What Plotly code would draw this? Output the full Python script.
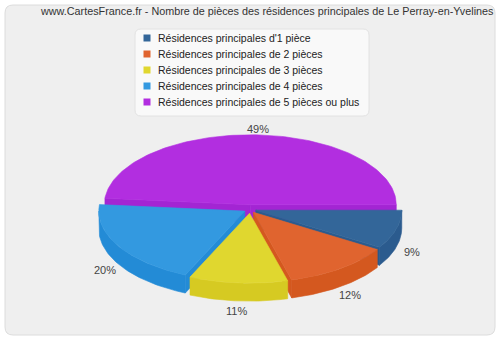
import numpy as np
import plotly.graph_objects as go

title = "www.CartesFrance.fr - Nombre de pièces des résidences principales de Le Perray-en-Yvelines"
categories = [
    "Résidences principales d'1 pièce",
    "Résidences principales de 2 pièces",
    "Résidences principales de 3 pièces",
    "Résidences principales de 4 pièces",
    "Résidences principales de 5 pièces ou plus",
]
values = [9, 12, 11, 20, 49]
pct_labels = ["9%", "12%", "11%", "20%", "49%"]
top_colors = ["#336699", "#e0642f", "#e0d72f", "#3399e0", "#b22ee0"]
side_colors = ["#2b5b8e", "#d4581f", "#d6ca22", "#238bd6", "#a325d3"]

# geometry (pixel space)
W, H = 500, 340
CX, CY, RX, RY, DEPTH, EXPLODE = 250, 209, 146, 70, 18, 6

fig = go.Figure()

vals = np.array(values, dtype=float)
fr = vals / vals.sum()
ends = np.cumsum(fr) * 2 * np.pi
starts = np.concatenate([[0.0], ends[:-1]])


def pt(a, ox, oy, dz=0.0):
    return CX + ox + RX * np.cos(a), CY + oy + RY * np.sin(a) + dz


def poly(xs, ys, color):
    fig.add_trace(go.Scatter(
        x=list(xs) + [xs[0]], y=list(ys) + [ys[0]], mode="lines",
        fill="toself", fillcolor=color, line=dict(color=color, width=0.6),
        hoverinfo="skip", showlegend=False))


mids = (starts + ends) / 2
order = np.argsort(np.sin(mids))
for i in order:
    a1, a2, m = starts[i], ends[i], mids[i]
    ox, oy = EXPLODE * np.cos(m), EXPLODE * np.sin(m) * 0.7
    cx, cy = CX + ox, CY + oy
    if np.cos(a1) < 0:
        x1, y1 = pt(a1, ox, oy)
        poly([cx, x1, x1, cx], [cy, y1, y1 + DEPTH, cy + DEPTH], side_colors[i])
    if np.cos(a2) > 0:
        x2, y2 = pt(a2, ox, oy)
        poly([cx, x2, x2, cx], [cy, y2, y2 + DEPTH, cy + DEPTH], side_colors[i])
    lo, hi = max(a1, 0.0), min(a2, np.pi)
    if hi > lo:
        t = np.linspace(lo, hi, 60)
        xt, yt = pt(t, ox, oy)
        xs = np.concatenate([xt, xt[::-1]])
        ys = np.concatenate([yt, (yt + DEPTH)[::-1]])
        poly(xs, ys, side_colors[i])
    t = np.linspace(a1, a2, 120)
    xt, yt = pt(t, ox, oy)
    poly(np.concatenate([[cx], xt]), np.concatenate([[cy], yt]), top_colors[i])

annotations = []
for i in range(len(values)):
    m = mids[i]
    ox, oy = EXPLODE * np.cos(m), EXPLODE * np.sin(m) * 0.7
    k = 1.11
    lx = CX + ox + RX * k * np.cos(m)
    ly = CY + oy + RY * k * np.sin(m) + (DEPTH if np.sin(m) > 0 else 0) + 2
    annotations.append(dict(x=lx, y=ly, text=pct_labels[i], showarrow=False,
                            font=dict(size=11, color="#444444"),
                            xanchor="center", yanchor="middle"))

# legend entries
LX0, LY0, LDY = 147, 38, 16
for i, c in enumerate(categories):
    fig.add_trace(go.Scatter(x=[LX0], y=[LY0 + i * LDY], mode="markers",
                             marker=dict(symbol="square", size=7, color=top_colors[i]),
                             hoverinfo="skip", showlegend=False))
    annotations.append(dict(x=LX0 + 9, y=LY0 + i * LDY, text=c, showarrow=False,
                            xanchor="left", yanchor="middle",
                            font=dict(size=10.5, color="#222222")))

annotations.append(dict(x=267, y=11, text=title, showarrow=False, xanchor="center",
                        yanchor="middle", font=dict(size=10.8, color="#333333")))


def rrect(x0, y0, x1, y1, r):
    return (f"M{x0+r},{y0} L{x1-r},{y0} Q{x1},{y0} {x1},{y0+r} L{x1},{y1-r} "
            f"Q{x1},{y1} {x1-r},{y1} L{x0+r},{y1} Q{x0},{y1} {x0},{y1-r} "
            f"L{x0},{y0+r} Q{x0},{y0} {x0+r},{y0} Z")


shapes = [
    dict(type="path", path=rrect(5, 5, 495, 335, 8), fillcolor="#efefef",
         line=dict(color="#dcdcdc", width=1), layer="below"),
    dict(type="path", path=rrect(135, 29, 369, 116, 6), fillcolor="#f9f9f9",
         line=dict(color="#e2e2e2", width=1), layer="below"),
]

fig.update_layout(
    width=W, height=H, margin=dict(l=0, r=0, t=0, b=0),
    paper_bgcolor="#ffffff", plot_bgcolor="rgba(0,0,0,0)",
    font=dict(family="Liberation Sans, Arial, sans-serif"),
    xaxis=dict(range=[0, W], visible=False, fixedrange=True),
    yaxis=dict(range=[H, 0], visible=False, fixedrange=True),
    shapes=shapes, annotations=annotations, showlegend=False,
)
fig.write_html("out.html")
